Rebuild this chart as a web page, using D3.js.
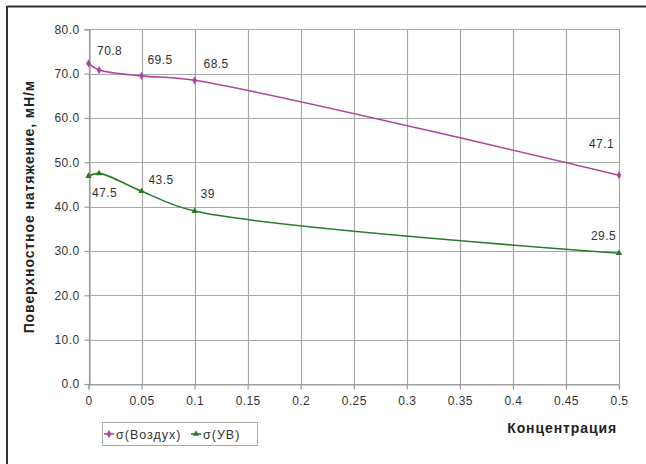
<!DOCTYPE html>
<html><head><meta charset="utf-8">
<script src="https://cdn.jsdelivr.net/npm/d3@7"></script>
<style>
body{margin:0;background:#fff;}
svg text{font-family:"Liberation Sans",Arial,sans-serif;}
</style></head>
<body><svg id="c" width="646" height="464"></svg>
<script>
const concentration = [0, 0.01, 0.05, 0.1, 0.5];
const sigmaAir = [72.3, 70.8, 69.5, 68.5, 47.1];
const sigmaUV = [46.9, 47.5, 43.5, 39, 29.5];
const airLabels = [null, "70.8", "69.5", "68.5", "47.1"];
const uvLabels = [null, "47.5", "43.5", "39", "29.5"];
const xTicks = [0, 0.05, 0.1, 0.15, 0.2, 0.25, 0.3, 0.35, 0.4, 0.45, 0.5];
const yTicks = [0, 10, 20, 30, 40, 50, 60, 70, 80];
const seriesNames = ["σ(Воздух)", "σ(УВ)"];
const xTitle = "Концентрация";
const yTitle = "Поверхностное натяжение, мН/м";

// label offsets (style, px) relative to point
const airLabelOff = [null, [-2,-15], [6,-12], [9,-12], [-30,-27]];
const uvLabelOff = [null, [-7,24], [7,-7], [6,-13], [-28,-13]];

const svg = d3.select("#c");
const airColor = "#b0449c", uvColor = "#2b7a2b";
const x = d3.scaleLinear().domain([0, 0.5]).range([88.5, 619]);
const y = d3.scaleLinear().domain([0, 80]).range([384, 29.3]);

// outer frame (top & left visible)
svg.append("line").attr("x1",7).attr("x2",646).attr("y1",6.5).attr("y2",6.5).attr("stroke","#333").attr("stroke-width",2);
svg.append("line").attr("x1",7).attr("x2",7).attr("y1",6).attr("y2",464).attr("stroke","#333").attr("stroke-width",2);

// grid
const g = svg.append("g");
g.selectAll(".hg").data(yTicks).join("line")
 .attr("x1", x(0)).attr("x2", x(0.5)).attr("y1", d=>Math.round(y(d))+0.5).attr("y2", d=>Math.round(y(d))+0.5)
 .attr("stroke","#a8a8a8").attr("stroke-width",1.2);
g.selectAll(".vg").data(xTicks).join("line")
 .attr("y1", y(80)).attr("y2", y(0)).attr("x1", d=>Math.round(x(d))+0.5).attr("x2", d=>Math.round(x(d))+0.5)
 .attr("stroke","#a8a8a8").attr("stroke-width",1.2);

// axes
const yAxis = d3.axisLeft(y).tickValues(yTicks).tickFormat(d3.format(".1f")).tickSize(5).tickPadding(5);
const xAxis = d3.axisBottom(x).tickValues(xTicks).tickFormat(d=>String(d)).tickSize(5).tickPadding(7);
const ya = svg.append("g").attr("transform",`translate(${Math.round(x(0))+0.5},0)`).call(yAxis);
const xa = svg.append("g").attr("transform",`translate(0,${Math.round(y(0))+0.5})`).call(xAxis);
[ya, xa].forEach(a=>{
  a.selectAll("path,line").attr("stroke","#999").attr("stroke-width",1.2);
  a.selectAll("text").attr("font-size",12).attr("fill","#333").attr("letter-spacing",0.4)
   .style("font-family",'"Liberation Sans",Arial,sans-serif');
});

// titles
svg.append("text").attr("transform",`translate(34,${(y(0)+y(80))/2}) rotate(-90)`)
 .attr("text-anchor","middle").attr("font-size",14).attr("font-weight","bold").attr("letter-spacing",0.9)
 .attr("fill","#222").text(yTitle);
svg.append("text").attr("x",617).attr("y",433).attr("text-anchor","end")
 .attr("font-size",14).attr("font-weight","bold").attr("letter-spacing",0.9).attr("fill","#222").text(xTitle);

// lines
const line = (vals)=>d3.line().curve(d3.curveCatmullRom.alpha(0.5))
  .x((d,i)=>x(concentration[i])).y(d=>y(d))(vals);
svg.append("path").attr("d", line(sigmaAir)).attr("fill","none").attr("stroke",airColor).attr("stroke-width",1.6);
svg.append("path").attr("d", line(sigmaUV)).attr("fill","none").attr("stroke",uvColor).attr("stroke-width",1.6);

const diamond = d3.symbol().type(d3.symbolDiamond).size(20);
const tri = d3.symbol().type(d3.symbolTriangle).size(18);
svg.selectAll(".ma").data(sigmaAir).join("path")
 .attr("d", diamond).attr("transform",(d,i)=>`translate(${x(concentration[i])},${y(d)})`).attr("fill",airColor);
svg.selectAll(".mu").data(sigmaUV).join("path")
 .attr("d", tri).attr("transform",(d,i)=>`translate(${x(concentration[i])},${y(d)})`).attr("fill",uvColor);

// data labels
function labels(vals, texts, offs){
  svg.append("g").selectAll("text").data(vals.map((v,i)=>({v,i})).filter(d=>texts[d.i]))
   .join("text").attr("x",d=>x(concentration[d.i])+offs[d.i][0]).attr("y",d=>y(d.v)+offs[d.i][1])
   .attr("font-size",12).attr("letter-spacing",0.4).attr("fill","#333").text(d=>texts[d.i]);
}
labels(sigmaAir, airLabels, airLabelOff);
labels(sigmaUV, uvLabels, uvLabelOff);

// legend
const lg = svg.append("g");
lg.append("rect").attr("x",102.5).attr("y",422.5).attr("width",155).attr("height",23)
 .attr("fill","#fff").attr("stroke","#aaa").attr("stroke-width",1);
const items = [{n:seriesNames[0], c:airColor, s:diamond, x0:104, tx:116},
               {n:seriesNames[1], c:uvColor, s:tri, x0:191, tx:203}];
items.forEach(it=>{
  lg.append("line").attr("x1",it.x0).attr("x2",it.x0+10).attr("y1",434).attr("y2",434).attr("stroke",it.c).attr("stroke-width",1.6);
  lg.append("path").attr("d",it.s).attr("transform",`translate(${it.x0+5},434)`).attr("fill",it.c);
  lg.append("text").attr("x",it.tx).attr("y",438.5).attr("font-size",12.5).attr("letter-spacing",1)
   .attr("fill","#333").text(it.n);
});
</script></body></html>
